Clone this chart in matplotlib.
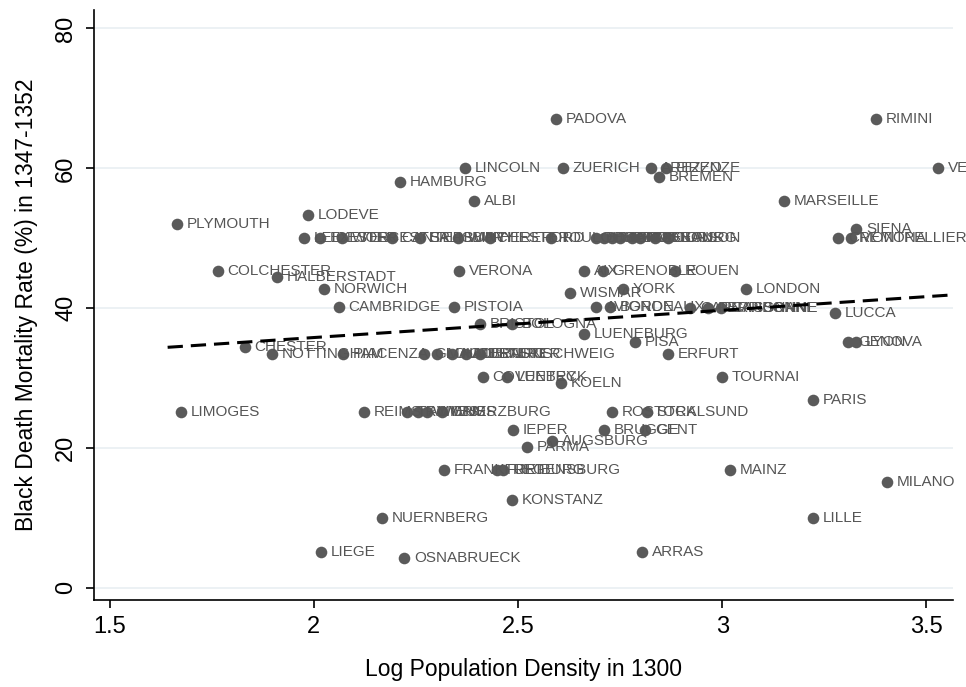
import matplotlib
matplotlib.use("Agg")
import matplotlib.pyplot as plt
import numpy as np

plt.rcParams['font.family'] = ['Liberation Sans', 'DejaVu Sans']

# city labels, log population density in 1300, black death mortality (%)
cities = [
    "PADOVA", "RIMINI", "VENEZIA", "LINCOLN", "ZUERICH", "AREZZO", "FIRENZE",
    "BREMEN", "HAMBURG", "ALBI", "MARSEILLE", "LODEVE", "PLYMOUTH", "SIENA",
    "CREMONA", "MONTPELLIER",
    "LEICESTER", "EXETER", "WORCESTER", "CANTERBURY", "SALISBURY", "WINCHESTER",
    "HEREFORD", "TOULOUSE", "BESANCON", "DIJON", "METZ", "STRASBOURG", "BASEL",
    "ORLEANS", "TOURS", "TOULON",
    "COLCHESTER", "HALBERSTADT", "VERONA", "AIX", "GRENOBLE", "ROUEN",
    "NORWICH", "WISMAR", "YORK", "LONDON",
    "CAMBRIDGE", "PISTOIA", "AVIGNON", "BORDEAUX", "CARCASSONNE", "PERPIGNAN",
    "NARBONNE", "LUCCA", "BRISTOL", "BOLOGNA", "LUENEBURG", "PISA", "GENOVA",
    "LYON", "CHESTER", "NOTTINGHAM", "PIACENZA", "ERFURT",
    "GLOUCESTER", "MAGDEBURG", "HALLE", "MUENSTER", "BRAUNSCHWEIG",
    "COVENTRY", "LUEBECK", "KOELN", "TOURNAI", "PARIS", "LIMOGES",
    "REIMS", "TROYES", "AMIENS", "WORMS", "WUERZBURG", "ROSTOCK", "STRALSUND",
    "IEPER", "BRUGGE", "GENT", "AUGSBURG", "PARMA", "FRANKFURT", "FREIBURG",
    "REGENSBURG", "MAINZ", "MILANO", "KONSTANZ", "NUERNBERG", "LILLE",
    "LIEGE", "OSNABRUECK", "ARRAS",
]
log_density = [
    2.593, 3.377, 3.529, 2.370, 2.610, 2.826, 2.863,
    2.846, 2.211, 2.392, 3.150, 1.985, 1.664, 3.328,
    3.284, 3.314,
    1.975, 2.015, 2.069, 2.191, 2.260, 2.353,
    2.431, 2.581, 2.691, 2.711, 2.730, 2.750, 2.779,
    2.799, 2.836, 2.868,
    1.765, 1.909, 2.355, 2.662, 2.708, 2.885,
    2.025, 2.627, 2.757, 3.059,
    2.061, 2.343, 2.691, 2.725, 2.922, 2.966,
    2.998, 3.275, 2.407, 2.485, 2.662, 2.787, 3.309,
    3.328, 1.831, 1.897, 2.071, 2.868,
    2.270, 2.301, 2.338, 2.373, 2.407,
    2.414, 2.473, 2.605, 3.000, 3.223, 1.674,
    2.123, 2.228, 2.255, 2.277, 2.314, 2.730, 2.816,
    2.488, 2.711, 2.811, 2.583, 2.522, 2.319, 2.449,
    2.463, 3.020, 3.404, 2.485, 2.167, 3.223,
    2.017, 2.221, 2.804,
]
mortality = [
    67.1, 67.1, 60.1, 60.1, 60.0, 60.0, 60.0,
    58.7, 58.1, 55.3, 55.3, 53.3, 52.0, 51.3,
    50.0, 50.0,
    50.0, 50.0, 50.0, 50.0, 50.0, 50.0,
    50.0, 50.0, 50.0, 50.0, 50.0, 50.0, 50.0,
    50.0, 50.0, 50.0,
    45.3, 44.4, 45.3, 45.3, 45.3, 45.3,
    42.7, 42.1, 42.7, 42.7,
    40.1, 40.1, 40.1, 40.1, 40.0, 40.0,
    40.0, 39.3, 37.7, 37.7, 36.3, 35.1, 35.1,
    35.1, 34.4, 33.4, 33.4, 33.4,
    33.4, 33.4, 33.4, 33.4, 33.4,
    30.1, 30.1, 29.3, 30.1, 26.9, 25.1,
    25.1, 25.1, 25.1, 25.1, 25.1, 25.1, 25.1,
    22.6, 22.6, 22.6, 21.0, 20.1, 16.9, 16.9,
    16.9, 16.9, 15.1, 12.6, 10.0, 10.0,
    5.1, 4.3, 5.1,
]

# linear fit
fit_intercept = 28.0
fit_slope = 3.9

x_ticks = [1.5, 2, 2.5, 3, 3.5]
y_ticks = [0, 20, 40, 60, 80]

fig = plt.figure(figsize=(9.66, 6.87), dpi=100)
ax = fig.add_axes([0.097, 0.127, 0.89, 0.858])

for yt in y_ticks:
    ax.axhline(yt, color='#e9eff2', lw=1.2, zorder=0)

ax.scatter(log_density, mortality, s=70, color='#5a5a5a', zorder=3, linewidths=0)
for name, xv, yv in zip(cities, log_density, mortality):
    ax.annotate(name, (xv, yv), xytext=(7, 0), textcoords='offset points',
                va='center', ha='left', fontsize=11, color='#555555', zorder=4)

xl = np.array([1.642, 3.566])
line, = ax.plot(xl, fit_intercept + fit_slope * xl, color='black', lw=2.2, zorder=5)
line.set_dashes([5, 2.6])

ax.set_xlim(1.461, 3.566)
ax.set_ylim(-1.7, 82.6)
ax.set_xticks(x_ticks)
ax.set_xticklabels(['1.5', '2', '2.5', '3', '3.5'])
ax.set_yticks(y_ticks)
ax.set_yticklabels([str(v) for v in y_ticks], rotation=90, va='center')
ax.tick_params(labelsize=17, length=6, width=1.2, pad=6)
for s in ['top', 'right']:
    ax.spines[s].set_visible(False)
for s in ['left', 'bottom']:
    ax.spines[s].set_linewidth(1.2)

ax.set_xlabel('Log Population Density in 1300', fontsize=16.5, labelpad=14)
ax.set_ylabel('Black Death Mortality Rate (%) in 1347-1352', fontsize=16.5, labelpad=12)

fig.savefig('out.png', dpi=100)
